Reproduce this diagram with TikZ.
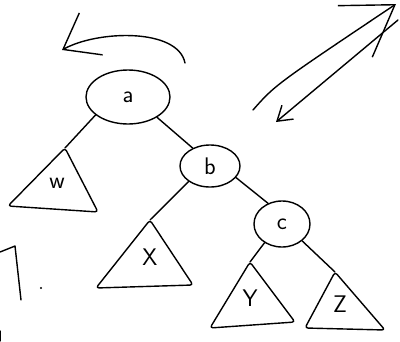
\documentclass[tikz,border=0pt]{standalone}
\usetikzlibrary{shapes.geometric,arrows.meta}
\begin{document}
\begin{tikzpicture}[x=1pt,y=-1pt,line width=1.4pt,line join=round,line cap=round,
    font=\sffamily\fontsize{24}{24}\selectfont,
    knot/.style={draw,ellipse,inner sep=0pt},
    sub/.style={rounded corners=3pt}]
  \useasboundingbox (0,0) rectangle (400,341);
  % the three keys
  \node[knot,minimum width=84pt,minimum height=54pt] (a) at (128,97) {a};
  \node[knot,minimum width=60pt,minimum height=42pt] (b) at (210,166) {b};
  \node[knot,minimum width=56pt,minimum height=46pt] (c) at (282,224) {c};
  % subtrees
  \coordinate (wtop) at (65,148);
  \coordinate (xtop) at (150,220);
  \coordinate (ytop) at (250,262);
  \coordinate (ztop) at (335,272);
  \draw[sub] (wtop) -- (8,206) -- (98,212) -- cycle;
  \draw[sub] (xtop) -- (96,288) -- (193,285) -- cycle;
  \draw[sub] (ytop) -- (210,328) -- (295,322) -- cycle;
  \draw[sub] (ztop) -- (305,328) -- (385,330) -- cycle;
  \node (w) at (57,183) {w};
  \node (x) at (150,257) {X};
  \node (y) at (250,298) {Y};
  \node (z) at (340,304) {Z};
  % edges
  \draw (a.209) -- (wtop);
  \draw (a.-35) -- (b.134);
  \draw (b.216) -- (xtop);
  \draw (b.-24) -- (c.124);
  \draw (c.227) -- (ytop);
  \draw (c.-40) -- (ztop);
  % rotation
  \draw[-{Straight Barb[length=32pt,width=48pt]}] (185,63) .. controls (178,28) and (98,30) .. (62,50);
  \draw[-{Straight Barb[length=48pt,width=62pt]}] (253,110) .. controls (275,85) .. (396,4);
  \draw[-{Straight Barb[length=14pt,width=18pt]}] (398,20) -- (276,122);
  % bits at the left edge
  \draw (0,252) -- (15,246) -- (21,300);
  \draw (0,331) -- (0,341);
  \fill (41,288) circle (1.2);
\end{tikzpicture}
\end{document}
